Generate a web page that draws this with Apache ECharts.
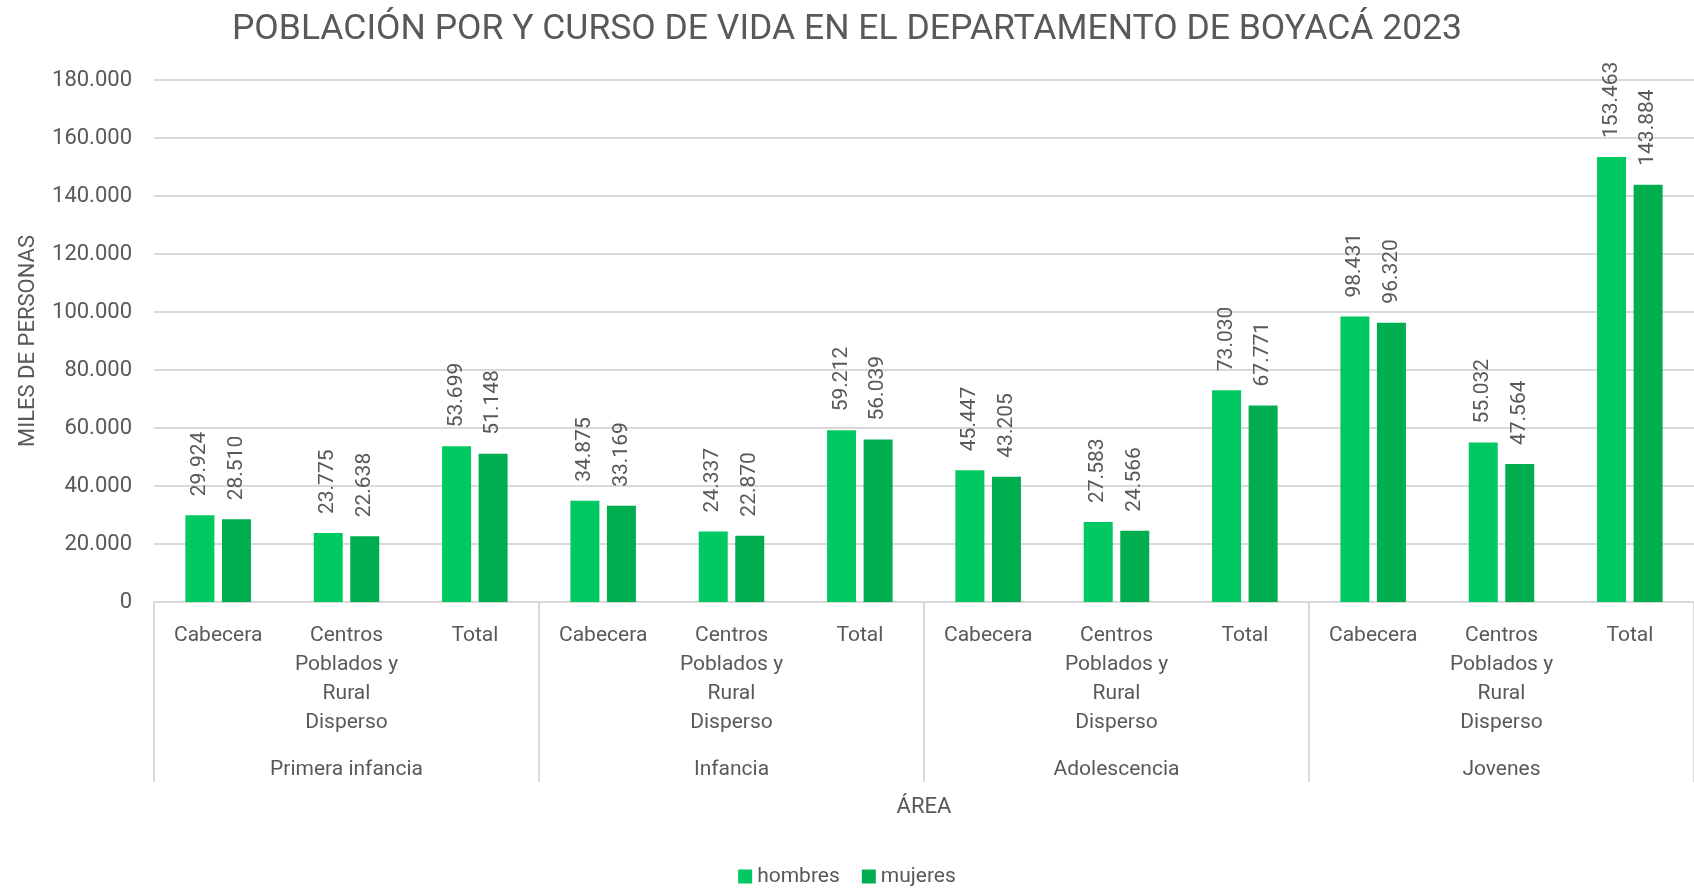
<!DOCTYPE html>
<html>
<head>
<meta charset="utf-8">
<script src="https://cdn.jsdelivr.net/npm/echarts@6/dist/echarts.min.js"></script>
<style>
  html, body { margin: 0; padding: 0; background: #fff; }
  #chart { width: 1694px; height: 890px; }
</style>
</head>
<body>
<div id="chart"></div>
<script>
// categorias del eje x (area) y grupos (curso de vida)
var categorias = [
  'Cabecera', 'Centros\nPoblados y\nRural\nDisperso', 'Total',
  'Cabecera', 'Centros\nPoblados y\nRural\nDisperso', 'Total',
  'Cabecera', 'Centros\nPoblados y\nRural\nDisperso', 'Total',
  'Cabecera', 'Centros\nPoblados y\nRural\nDisperso', 'Total'
];
var grupos = ['Primera infancia', 'Infancia', 'Adolescencia', 'Jovenes'];

var hombres = [29924, 23775, 53699, 34875, 24337, 59212, 45447, 27583, 73030, 98431, 55032, 153463];
var mujeres = [28510, 22638, 51148, 33169, 22870, 56039, 43205, 24566, 67771, 96320, 47564, 143884];

var TXT = '#595959';
var LINE = '#d9d9d9';
var FONT = 'Roboto';

// separador de miles con punto
function miles(v) {
  return String(v).replace(/\B(?=(\d{3})+(?!\d))/g, '.');
}

var chart = echarts.init(document.getElementById('chart'));

var etiqueta = {
  show: true,
  position: 'top',
  rotate: 90,
  align: 'left',
  verticalAlign: 'middle',
  distance: 19,
  color: TXT,
  fontFamily: FONT,
  fontSize: 21,
  formatter: function (p) { return miles(p.value); }
};

chart.setOption({
  animation: false,
  textStyle: { fontFamily: FONT, color: TXT },
  title: {
    text: 'POBLACIÓN POR Y CURSO DE VIDA EN EL DEPARTAMENTO DE BOYACÁ 2023',
    left: 'center',
    top: 7,
    textStyle: { color: TXT, fontFamily: FONT, fontSize: 35.5, fontWeight: 'normal' }
  },
  legend: {
    data: ['hombres', 'mujeres'],
    top: 861,
    left: 'center',
    itemWidth: 14,
    itemHeight: 14,
    itemGap: 22,
    icon: 'rect',
    textStyle: { color: TXT, fontFamily: FONT, fontSize: 21 }
  },
  grid: { left: 154, right: 0, top: 80, bottom: 288, containLabel: false, outerBoundsMode: 'none' },
  xAxis: [
    {
      type: 'category',
      data: categorias,
      axisLine: { show: true, lineStyle: { color: LINE, width: 2 } },
      axisTick: { show: false },
      axisLabel: {
        interval: 0,
        margin: 19,
        color: TXT,
        fontFamily: FONT,
        fontSize: 21,
        lineHeight: 29,
        align: 'center'
      }
    },
    {
      type: 'category',
      data: grupos,
      position: 'bottom',
      name: 'ÁREA',
      nameLocation: 'middle',
      nameGap: 194,
      nameTextStyle: { color: TXT, fontFamily: FONT, fontSize: 22 },
      axisLine: { show: false },
      axisTick: { show: true, interval: 0, length: 180, lineStyle: { color: LINE, width: 2 } },
      axisLabel: {
        interval: 0,
        margin: 157,
        color: TXT,
        fontFamily: FONT,
        fontSize: 21
      }
    }
  ],
  yAxis: {
    type: 'value',
    min: 0,
    max: 180000,
    interval: 20000,
    name: 'MILES DE PERSONAS',
    nameLocation: 'middle',
    nameGap: 115,
    nameTextStyle: { color: TXT, fontFamily: FONT, fontSize: 22 },
    axisLine: { show: false },
    axisTick: { show: false },
    splitLine: { lineStyle: { color: LINE, width: 2 } },
    axisLabel: {
      margin: 22,
      color: TXT,
      fontFamily: FONT,
      fontSize: 22,
      formatter: function (v) { return miles(v); }
    }
  },
  series: [
    {
      name: 'hombres',
      type: 'bar',
      data: hombres,
      barWidth: 29,
      barGap: '26%',
      itemStyle: { color: '#00C862' },
      label: etiqueta
    },
    {
      name: 'mujeres',
      type: 'bar',
      data: mujeres,
      barWidth: 29,
      itemStyle: { color: '#00AD4F' },
      label: etiqueta
    }
  ]
});
</script>
</body>
</html>
